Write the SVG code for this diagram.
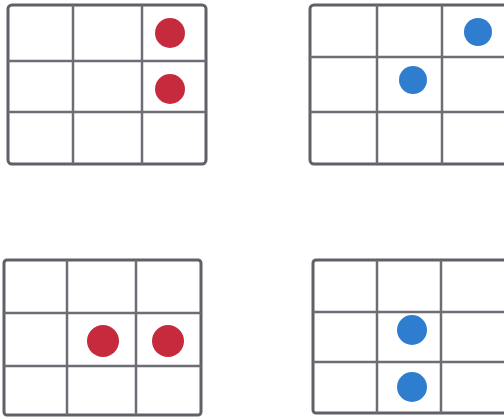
<svg xmlns="http://www.w3.org/2000/svg" width="504" height="419" viewBox="0 0 504 419">
<style>
.frame{fill:#fff;stroke:#5f6068;stroke-width:3}
.line{stroke:#6c6d75;stroke-width:2.5}
.red{fill:#c62b3d}
.blue{fill:#2e7dcf}
</style>
<rect width="504" height="419" fill="#fff"/>
<g id="grid1">
<rect class="frame" x="8" y="5" width="198" height="159" rx="4"/>
<line class="line" x1="73" y1="5" x2="73" y2="164"/>
<line class="line" x1="142" y1="5" x2="142" y2="164"/>
<line class="line" x1="8" y1="61" x2="206" y2="61"/>
<line class="line" x1="8" y1="112" x2="206" y2="112"/>
<circle class="red" cx="170" cy="33" r="15"/>
<circle class="red" cx="170" cy="89" r="15"/>
</g>
<g id="grid2">
<rect class="frame" x="310" y="5" width="200" height="159" rx="4"/>
<line class="line" x1="377" y1="5" x2="377" y2="164"/>
<line class="line" x1="442" y1="5" x2="442" y2="164"/>
<line class="line" x1="310" y1="57" x2="510" y2="57"/>
<line class="line" x1="310" y1="112" x2="510" y2="112"/>
<circle class="blue" cx="478" cy="32" r="14"/>
<circle class="blue" cx="413" cy="80" r="14"/>
</g>
<g id="grid3">
<rect class="frame" x="4" y="260" width="197" height="155" rx="3"/>
<line class="line" x1="67" y1="260" x2="67" y2="415"/>
<line class="line" x1="136" y1="260" x2="136" y2="415"/>
<line class="line" x1="4" y1="313" x2="201" y2="313"/>
<line class="line" x1="4" y1="366" x2="201" y2="366"/>
<circle class="red" cx="103" cy="341" r="16"/>
<circle class="red" cx="168" cy="341" r="16"/>
</g>
<g id="grid4">
<rect class="frame" x="313" y="260" width="197" height="153" rx="3"/>
<line class="line" x1="377" y1="260" x2="377" y2="413"/>
<line class="line" x1="441" y1="260" x2="441" y2="413"/>
<line class="line" x1="313" y1="312" x2="510" y2="312"/>
<line class="line" x1="313" y1="362" x2="510" y2="362"/>
<circle class="blue" cx="412" cy="330" r="15"/>
<circle class="blue" cx="412" cy="387" r="15"/>
</g>
<g id="connectors"></g>
</svg>
